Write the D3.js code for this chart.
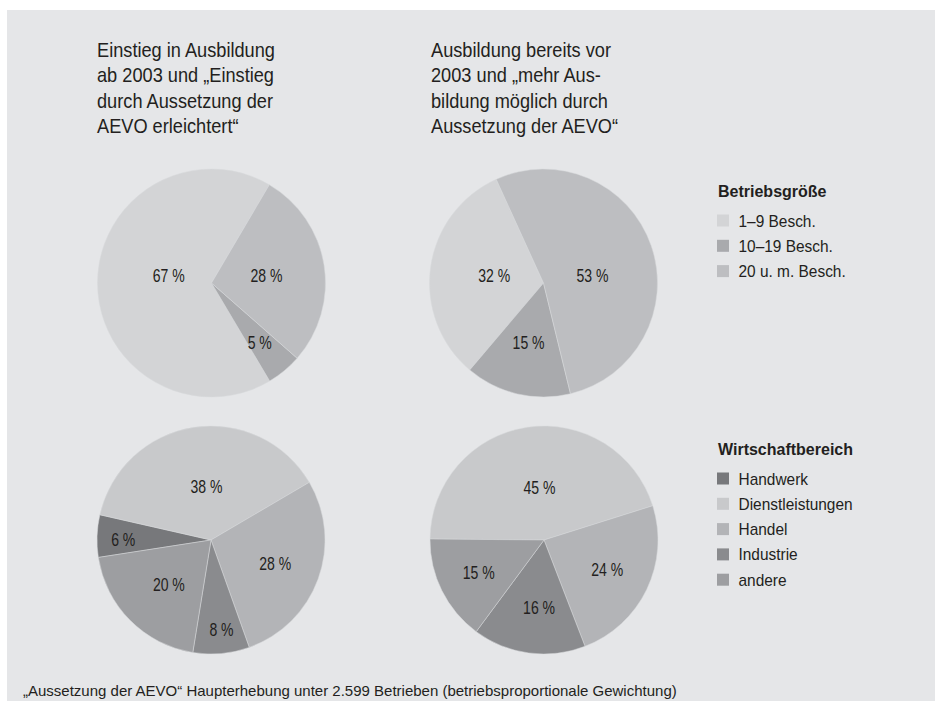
<!DOCTYPE html>
<html>
<head>
<meta charset="utf-8">
<script src="https://cdn.jsdelivr.net/npm/d3@7/dist/d3.min.js"></script>
<style>
  html, body { margin: 0; padding: 0; background: #ffffff; }
  svg { display: block; }
  text { font-family: "Liberation Sans", Arial, sans-serif; fill: #231f20; }
</style>
</head>
<body>
<svg id="chart" width="935" height="701"></svg>
<script>
// Column headings
const titleLeft = ["Einstieg in Ausbildung", "ab 2003 und „Einstieg", "durch Aussetzung der", "AEVO erleichtert“"];
const titleRight = ["Ausbildung bereits vor", "2003 und „mehr Aus-", "bildung möglich durch", "Aussetzung der AEVO“"];

// Betriebsgröße (company size), shares in %
const sizeCategories = ["1–9 Besch.", "10–19 Besch.", "20 u. m. Besch."];
const sizeEinstieg = [67, 5, 28];
const sizeMehr = [32, 15, 53];

// Wirtschaftsbereich (sector), shares in %
const sectorCategories = ["Handwerk", "Dienstleistungen", "Handel", "Industrie", "andere"];
const sectorEinstieg = [6, 38, 28, 8, 20];
const sectorMehr = [0, 45, 24, 16, 15];

const sizeTitle = "Betriebsgröße";
const sectorTitle = "Wirtschaftbereich";
const footnote = "„Aussetzung der AEVO“ Haupterhebung unter 2.599 Betrieben (betriebsproportionale Gewichtung)";

// Fill colours
const sizeColors = ["#d3d4d6", "#a9aaad", "#bdbec1"];
const sectorColors = ["#77787b", "#c8c9cb", "#b3b4b7", "#8a8b8e", "#9d9ea1"];

const svg = d3.select("#chart");
const W = 935, H = 701;

// panel background
svg.append("rect").attr("x", 7).attr("y", 10).attr("width", W - 7).attr("height", H - 10).attr("fill", "#e5e6e8");

// condensed text: horizontal squeeze around the anchor point
function ctext(parent, x, y, size, sx) {
  return parent.append("text")
    .attr("transform", `translate(${x},${y}) scale(${sx},1)`)
    .style("font-size", size + "px");
}

// headings
function heading(lines, x) {
  const t = ctext(svg, x, 57, 20, 0.91);
  lines.forEach((l, i) => t.append("tspan").attr("x", 0).attr("dy", i === 0 ? 0 : 25.4).text(l));
}
heading(titleLeft, 97);
heading(titleRight, 431);

const R = 114;
const deg = Math.PI / 180;

// one pie: values, colours, centre, start angle, direction,
// label placement as [radius factor, angular nudge in degrees]
function drawPie(values, colors, cx, cy, startDeg, clockwise, labelPos) {
  const s = startDeg * deg;
  const pie = d3.pie().sort(null).value(d => d)
    .startAngle(s).endAngle(clockwise ? s + 2 * Math.PI : s - 2 * Math.PI);
  const arcs = pie(values);
  const arc = d3.arc().innerRadius(0).outerRadius(R);
  const g = svg.append("g").attr("transform", `translate(${cx},${cy})`);
  g.selectAll("path").data(arcs).join("path")
    .attr("d", arc)
    .attr("fill", (d, i) => colors[i])
    .attr("stroke", "#d9dadc")
    .attr("stroke-width", 0.5);
  arcs.filter(d => d.data > 0).forEach(d => {
    const [kf, nudge] = labelPos[d.index];
    const k = kf * R;
    const a = (d.startAngle + d.endAngle) / 2 + nudge * deg;
    const nd = { startAngle: a, endAngle: a };
    const c = d3.arc().innerRadius(k).outerRadius(k).centroid(nd);
    ctext(g, c[0], c[1], 18, 0.78)
      .attr("text-anchor", "middle")
      .attr("dy", "0.36em")
      .text(d.data + " %");
  });
}

drawPie(sizeEinstieg, sizeColors, 211.5, 283, 30.5, false,
  [[0.38, 9.4], [0.675, 0.9], [0.486, 1.8]]);
drawPie(sizeMehr, sizeColors, 543.5, 283, 335.5, false,
  [[0.437, 0.5], [0.54, 0.7], [0.434, 10.6]]);
drawPie(sectorEinstieg, sectorColors, 211, 540, 261.2, true,
  [[0.77, -2], [0.47, 4], [0.60, 0], [0.79, -1.5], [0.54, -2]]);
drawPie(sectorMehr, sectorColors, 544, 540, 270.5, true,
  [[0.6, 0], [0.46, 3.5], [0.61, -1], [0.59, -3.5], [0.64, 0]]);

// legends
function legend(title, cats, colors, x, y) {
  svg.append("text").attr("x", x + 1).attr("y", y)
    .style("font-size", "16px").style("font-weight", "bold").text(title);
  cats.forEach((c, i) => {
    const by = y + 29.5 + i * 25.3;
    svg.append("rect").attr("x", x).attr("y", by - 12).attr("width", 12).attr("height", 12).attr("fill", colors[i]);
    ctext(svg, x + 21.5, by, 16, 0.965).text(c);
  });
}
legend(sizeTitle, sizeCategories, sizeColors, 717, 197);
legend(sectorTitle, sectorCategories, sectorColors, 717, 455);

// footnote
svg.append("text").attr("x", 23).attr("y", 696).style("font-size", "15px").text(footnote);
</script>
</body>
</html>
